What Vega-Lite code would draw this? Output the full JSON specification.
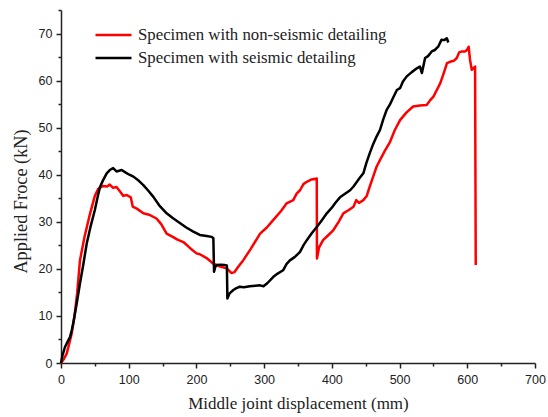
{
  "$schema": "https://vega.github.io/schema/vega-lite/v6.json",
  "width": 474,
  "height": 353,
  "autosize": {"type": "none"},
  "padding": {"left": 61, "top": 10, "right": 13, "bottom": 54},
  "background": "white",
  "config": {
    "view": {"stroke": null},
    "axis": {
      "domainColor": "#222",
      "domainWidth": 1.5,
      "tickColor": "#222",
      "tickWidth": 1.5,
      "labelFont": "Liberation Sans",
      "labelFontSize": 12.5,
      "labelColor": "#222",
      "titleFont": "Liberation Serif",
      "titleFontSize": 17,
      "titleFontWeight": "normal",
      "titleColor": "#222",
      "grid": false
    }
  },
  "data": {"values": [
    {"s":"N","i":1,"x":0,"y":0},{"s":"N","i":2,"x":4,"y":0.8},{"s":"N","i":3,"x":8.4,"y":2},{"s":"N","i":4,"x":12,"y":4},{"s":"N","i":5,"x":15.8,"y":6.3},{"s":"N","i":6,"x":20,"y":10},{"s":"N","i":7,"x":24,"y":15},{"s":"N","i":8,"x":28,"y":21.8},{"s":"N","i":9,"x":35,"y":27},{"s":"N","i":10,"x":43,"y":31.8},
    {"s":"N","i":11,"x":50,"y":35.5},{"s":"N","i":12,"x":55,"y":37},{"s":"N","i":13,"x":62,"y":37.6},{"s":"N","i":14,"x":68,"y":37.5},{"s":"N","i":15,"x":72,"y":37.9},{"s":"N","i":16,"x":77,"y":37.2},{"s":"N","i":17,"x":82,"y":37.4},{"s":"N","i":18,"x":88,"y":36.3},{"s":"N","i":19,"x":92,"y":35.5},{"s":"N","i":20,"x":97,"y":35.7},
    {"s":"N","i":21,"x":103,"y":35.2},{"s":"N","i":22,"x":106,"y":33.2},{"s":"N","i":23,"x":112,"y":32.8},{"s":"N","i":24,"x":121.6,"y":31.8},{"s":"N","i":25,"x":130,"y":31.5},{"s":"N","i":26,"x":141,"y":30.7},{"s":"N","i":27,"x":148,"y":29.5},{"s":"N","i":28,"x":156,"y":27.5},{"s":"N","i":29,"x":165,"y":26.8},{"s":"N","i":30,"x":172,"y":26.2},
    {"s":"N","i":31,"x":180.7,"y":25.7},{"s":"N","i":32,"x":190,"y":24.5},{"s":"N","i":33,"x":200,"y":23.3},{"s":"N","i":34,"x":205,"y":23.1},{"s":"N","i":35,"x":215,"y":22.3},{"s":"N","i":36,"x":225,"y":21.1},{"s":"N","i":37,"x":235,"y":20.5},{"s":"N","i":38,"x":244.7,"y":20.1},{"s":"N","i":39,"x":249,"y":19.5},{"s":"N","i":40,"x":252,"y":19.1},
    {"s":"N","i":41,"x":256,"y":19.3},{"s":"N","i":42,"x":262,"y":20.5},{"s":"N","i":43,"x":269,"y":21.8},{"s":"N","i":44,"x":280,"y":24.2},{"s":"N","i":45,"x":294,"y":27.5},{"s":"N","i":46,"x":304,"y":28.8},{"s":"N","i":47,"x":313.6,"y":30.4},{"s":"N","i":48,"x":325,"y":32.3},{"s":"N","i":49,"x":333,"y":33.9},{"s":"N","i":50,"x":343,"y":34.6},
    {"s":"N","i":51,"x":348,"y":36},{"s":"N","i":52,"x":353,"y":36.7},{"s":"N","i":53,"x":358,"y":38},{"s":"N","i":54,"x":363,"y":38.5},{"s":"N","i":55,"x":370,"y":39},{"s":"N","i":56,"x":377.7,"y":39.2},{"s":"N","i":57,"x":378,"y":22.2},{"s":"N","i":58,"x":381,"y":24.5},{"s":"N","i":59,"x":387,"y":26.1},{"s":"N","i":60,"x":395,"y":27.2},
    {"s":"N","i":61,"x":402,"y":28.2},{"s":"N","i":62,"x":410,"y":30},{"s":"N","i":63,"x":417,"y":31.8},{"s":"N","i":64,"x":425,"y":32.5},{"s":"N","i":65,"x":432,"y":33.2},{"s":"N","i":66,"x":436,"y":34.6},{"s":"N","i":67,"x":440,"y":34},{"s":"N","i":68,"x":446.5,"y":34.6},{"s":"N","i":69,"x":451.5,"y":35.5},{"s":"N","i":70,"x":456,"y":37.5},
    {"s":"N","i":71,"x":461,"y":39.6},{"s":"N","i":72,"x":466,"y":41.7},{"s":"N","i":73,"x":471,"y":43.1},{"s":"N","i":74,"x":478,"y":45},{"s":"N","i":75,"x":486,"y":47},{"s":"N","i":76,"x":493,"y":49.5},{"s":"N","i":77,"x":500.7,"y":51.6},{"s":"N","i":78,"x":510,"y":53.2},{"s":"N","i":79,"x":520,"y":54.5},{"s":"N","i":80,"x":530,"y":54.7},
    {"s":"N","i":81,"x":540,"y":54.8},{"s":"N","i":82,"x":545,"y":55.8},{"s":"N","i":83,"x":550,"y":56.6},{"s":"N","i":84,"x":555,"y":58},{"s":"N","i":85,"x":560,"y":59.4},{"s":"N","i":86,"x":565,"y":61.5},{"s":"N","i":87,"x":570,"y":63.7},{"s":"N","i":88,"x":574.6,"y":64},{"s":"N","i":89,"x":580,"y":64.2},{"s":"N","i":90,"x":584.5,"y":64.8},
    {"s":"N","i":91,"x":588,"y":66},{"s":"N","i":92,"x":592,"y":66.2},{"s":"N","i":93,"x":597,"y":66.2},{"s":"N","i":94,"x":600,"y":66.6},{"s":"N","i":95,"x":602,"y":67.2},{"s":"N","i":96,"x":604,"y":64.5},{"s":"N","i":97,"x":606.6,"y":62.3},{"s":"N","i":98,"x":609,"y":62.6},{"s":"N","i":99,"x":611.5,"y":63},{"s":"N","i":100,"x":612.5,"y":20.8},
    {"s":"S","i":1,"x":0,"y":0},{"s":"S","i":2,"x":2,"y":1.5},{"s":"S","i":3,"x":5.9,"y":3.4},{"s":"S","i":4,"x":10,"y":4.6},{"s":"S","i":5,"x":13.3,"y":5.5},{"s":"S","i":6,"x":16,"y":7},{"s":"S","i":7,"x":18,"y":8.4},{"s":"S","i":8,"x":23,"y":12.5},{"s":"S","i":9,"x":28,"y":16.9},{"s":"S","i":10,"x":33,"y":21},
    {"s":"S","i":11,"x":38,"y":25.4},{"s":"S","i":12,"x":44,"y":29.2},{"s":"S","i":13,"x":50,"y":32.5},{"s":"S","i":14,"x":54,"y":35.2},{"s":"S","i":15,"x":57.6,"y":37.4},{"s":"S","i":16,"x":62,"y":38.8},{"s":"S","i":17,"x":67.5,"y":40.3},{"s":"S","i":18,"x":72,"y":41},{"s":"S","i":19,"x":77,"y":41.4},{"s":"S","i":20,"x":82,"y":40.7},
    {"s":"S","i":21,"x":89.6,"y":41},{"s":"S","i":22,"x":95,"y":40.5},{"s":"S","i":23,"x":101,"y":40},{"s":"S","i":24,"x":107,"y":39.6},{"s":"S","i":25,"x":115,"y":38.7},{"s":"S","i":26,"x":121.6,"y":37.8},{"s":"S","i":27,"x":129,"y":36.6},{"s":"S","i":28,"x":136.4,"y":35.3},{"s":"S","i":29,"x":145,"y":33.5},{"s":"S","i":30,"x":156,"y":31.8},
    {"s":"S","i":31,"x":165,"y":30.8},{"s":"S","i":32,"x":176,"y":29.7},{"s":"S","i":33,"x":185,"y":28.8},{"s":"S","i":34,"x":195.4,"y":27.9},{"s":"S","i":35,"x":205,"y":27.2},{"s":"S","i":36,"x":215,"y":27},{"s":"S","i":37,"x":222.6,"y":26.8},{"s":"S","i":38,"x":225,"y":26.5},{"s":"S","i":39,"x":226,"y":19.4},{"s":"S","i":40,"x":228,"y":20.5},
    {"s":"S","i":41,"x":230,"y":20.8},{"s":"S","i":42,"x":236,"y":20.9},{"s":"S","i":43,"x":242,"y":20.8},{"s":"S","i":44,"x":245,"y":20.7},{"s":"S","i":45,"x":245.7,"y":13.7},{"s":"S","i":46,"x":249,"y":14.8},{"s":"S","i":47,"x":254.5,"y":15.5},{"s":"S","i":48,"x":259,"y":15.9},{"s":"S","i":49,"x":264,"y":16.2},{"s":"S","i":50,"x":270,"y":16.1},
    {"s":"S","i":51,"x":279,"y":16.3},{"s":"S","i":52,"x":287,"y":16.4},{"s":"S","i":53,"x":294,"y":16.5},{"s":"S","i":54,"x":299,"y":16.3},{"s":"S","i":55,"x":305,"y":17},{"s":"S","i":56,"x":313.6,"y":18.3},{"s":"S","i":57,"x":320,"y":19},{"s":"S","i":58,"x":328,"y":19.7},{"s":"S","i":59,"x":333,"y":21},{"s":"S","i":60,"x":338,"y":21.8},
    {"s":"S","i":61,"x":345,"y":22.5},{"s":"S","i":62,"x":353,"y":23.6},{"s":"S","i":63,"x":358,"y":25},{"s":"S","i":64,"x":363,"y":26.1},{"s":"S","i":65,"x":370,"y":27.5},{"s":"S","i":66,"x":377.7,"y":28.9},{"s":"S","i":67,"x":385,"y":30.3},{"s":"S","i":68,"x":392.5,"y":31.8},{"s":"S","i":69,"x":400,"y":33},{"s":"S","i":70,"x":405,"y":34},
    {"s":"S","i":71,"x":412,"y":35.2},{"s":"S","i":72,"x":420,"y":36},{"s":"S","i":73,"x":427,"y":36.7},{"s":"S","i":74,"x":432,"y":37.5},{"s":"S","i":75,"x":437,"y":38.5},{"s":"S","i":76,"x":441,"y":39.3},{"s":"S","i":77,"x":446.5,"y":40.3},{"s":"S","i":78,"x":451,"y":42.5},{"s":"S","i":79,"x":456,"y":44.6},{"s":"S","i":80,"x":461,"y":46.5},
    {"s":"S","i":81,"x":466,"y":48.1},{"s":"S","i":82,"x":471,"y":49.5},{"s":"S","i":83,"x":476,"y":51.8},{"s":"S","i":84,"x":481,"y":53.8},{"s":"S","i":85,"x":486,"y":55},{"s":"S","i":86,"x":491,"y":56.5},{"s":"S","i":87,"x":496,"y":58},{"s":"S","i":88,"x":500.7,"y":58.4},{"s":"S","i":89,"x":505,"y":59.8},{"s":"S","i":90,"x":510.6,"y":60.9},
    {"s":"S","i":91,"x":518,"y":61.8},{"s":"S","i":92,"x":525.5,"y":62.6},{"s":"S","i":93,"x":530,"y":63},{"s":"S","i":94,"x":533,"y":61.6},{"s":"S","i":95,"x":537.7,"y":64.8},{"s":"S","i":96,"x":542,"y":65.2},{"s":"S","i":97,"x":547.5,"y":66.2},{"s":"S","i":98,"x":552,"y":66.5},{"s":"S","i":99,"x":557,"y":67.2},{"s":"S","i":100,"x":562,"y":68.7},
    {"s":"S","i":101,"x":566,"y":68.6},{"s":"S","i":102,"x":569.8,"y":69},{"s":"S","i":103,"x":572,"y":68.1}
  ]},
  "transform": [
    {"calculate": "datum.s === 'N' ? 'Specimen with non-seismic detailing' : 'Specimen with seismic detailing'", "as": "series"}
  ],
  "mark": {"type": "line", "strokeWidth": 2.5, "strokeJoin": "round"},
  "encoding": {
    "x": {"field": "x", "type": "quantitative", "scale": {"domain": [0, 700], "nice": false, "zero": false},
      "axis": {"orient": "bottom", "values": [0,50,100,150,200,250,300,350,400,450,500,550,600,650,700],
        "labelExpr": "datum.value % 100 === 0 ? datum.label : ''",
        "tickSize": {"condition": {"test": "datum.value % 100 === 0", "value": 5}, "value": 3},
        "title": "Middle joint displacement (mm)", "titleFont": "Liberation Serif", "labelPadding": 5, "titlePadding": 10, "labelFlush": false}},
    "y": {"field": "y", "type": "quantitative", "scale": {"domain": [0, 75], "nice": false},
      "axis": {"orient": "left", "values": [0,5,10,15,20,25,30,35,40,45,50,55,60,65,70,75],
        "labelExpr": "datum.value % 10 === 0 ? datum.label : ''",
        "tickSize": {"condition": {"test": "datum.value % 10 === 0", "value": 5}, "value": 3},
        "title": "Applied Froce (kN)", "titleFont": "Liberation Serif", "titleFontSize": 18.3, "titleY": 191, "labelPadding": 4, "titlePadding": 8, "labelFlush": false}},
    "color": {"field": "series", "type": "nominal",
      "scale": {"domain": ["Specimen with non-seismic detailing", "Specimen with seismic detailing"], "range": ["#ff0000", "#000000"]},
      "legend": {"title": null, "orient": "none", "legendX": 33, "legendY": 17, "padding": 0,
        "symbolType": "stroke", "symbolSize": 1296, "symbolStrokeWidth": 2.5, "labelFont": "Liberation Serif",
        "labelFontSize": 16.8, "labelColor": "#222", "labelOffset": 5, "clipHeight": 16, "rowPadding": 6, "labelLimit": 400}},
    "order": {"field": "i", "type": "quantitative"}
  }
}
